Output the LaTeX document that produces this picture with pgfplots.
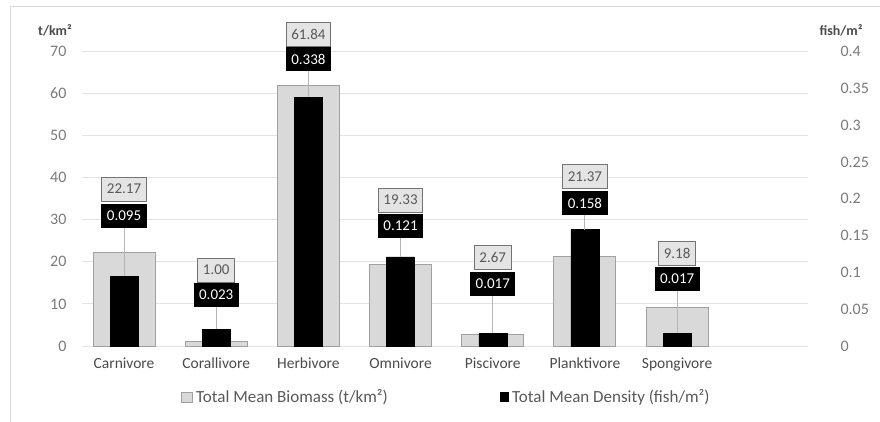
\documentclass[border=0pt]{standalone}
\usepackage{pgfplots}
\pgfplotsset{compat=1.18}
\usepackage{pgfplotstable}
\usepackage{fontspec}
\setmainfont{Carlito}

\definecolor{biofill}{HTML}{D9D9D9}
\definecolor{bioedge}{HTML}{A0A0A0}
\definecolor{boxfill}{HTML}{E4E4E4}
\definecolor{boxedge}{HTML}{737373}
\definecolor{gridc}{HTML}{E3E3E3}
\definecolor{tickc}{HTML}{7A7A7A}
\definecolor{catc}{HTML}{4A4A4A}
\definecolor{legc}{HTML}{595959}
\definecolor{leadc}{HTML}{B5B5B5}
\definecolor{framec}{HTML}{D9D9D9}

% feeding guild, biomass (t/km2), density (fish/m2)
\pgfplotstableread{
idx biomass density
0 22.17 0.095
1 1.00  0.023
2 61.84 0.338
3 19.33 0.121
4 2.67  0.017
5 21.37 0.158
6 9.18  0.017
}\guilds

\pgfplotsset{
  guildaxis/.style={
    scale only axis, width=726pt, height=294.5pt,
    at={(82pt,75pt)}, anchor=south west,
    xmin=-0.456, xmax=7.42, ymin=0,
    axis line style={draw=none}, major tick length=0pt,
    tick style={draw=none},
    /pgf/number format/assume math mode=true,
    tick label style={font=\fontsize{16}{18}\selectfont},
  },
}
\tikzset{
  biobox/.style={draw=boxedge, fill=boxfill, text=legc, line width=0.9pt,
    inner xsep=5pt, minimum height=24pt, font=\fontsize{15}{18}\selectfont},
  denbox/.style={draw=black, fill=black, text=white, line width=0.9pt,
    inner xsep=5pt, minimum height=23pt, font=\fontsize{15}{18}\selectfont},
}

\begin{document}
\begin{tikzpicture}
\path[use as bounding box] (0pt,0pt) rectangle (880pt,421pt);
\draw[framec, line width=1pt] (10pt,-5pt) -- (10pt,414pt) -- (885pt,414pt);

% biomass on the left axis
\begin{axis}[guildaxis, ybar, bar width=62pt, ymax=70,
  ytick={0,10,...,70}, ymajorgrids, grid style={gridc, line width=1pt},
  yticklabel style={text=tickc, xshift=-12pt},
  xtick={0,...,6},
  xticklabels={Carnivore,Corallivore,Herbivore,Omnivore,Piscivore,Planktivore,Spongivore},
  xticklabel style={text=catc, yshift=-8pt, font=\fontsize{15.5}{18}\selectfont},
]
\addplot[fill=biofill, draw=bioedge, line width=0.9pt] table[x=idx, y=biomass] {\guilds};
\end{axis}

% density on the right axis, with the value boxes
\begin{axis}[guildaxis, ybar, bar width=28pt, ymax=0.4, clip=false,
  ytick={0,0.05,...,0.4},
  yticklabels={0,0.05,0.1,0.15,0.2,0.25,0.3,0.35,0.4},
  yticklabel pos=right,
  yticklabel style={text=tickc, anchor=west, xshift=29pt},
  xtick=\empty,
]
\addplot[fill=black, draw=black] table[x=idx, y=density] {\guilds};

\foreach \i/\b/\d/\yb/\yd in {
  0/22.17/0.095/0.2132/0.1772,
  1/1.00/0.023/0.1032/0.0693,
  2/61.84/0.338/0.4231/0.3898,
  3/19.33/0.121/0.1983/0.1630,
  4/2.67/0.017/0.1202/0.0842,
  5/21.37/0.158/0.2302/0.1942,
  6/9.18/0.017/0.1256/0.0917}{
  \edef\temp{\noexpand\draw[leadc, line width=1pt] (axis cs:\i,\yd) -- (axis cs:\i,\d);
    \noexpand\node[denbox] at (axis cs:\i,\yd) {\d};
    \noexpand\node[biobox] at (axis cs:\i,\yb) {\b};}
  \temp
}
\end{axis}

% unit labels
\node[font=\bfseries\fontsize{14}{16}\selectfont, text=catc] at (55pt,391pt) {t/km²};
\node[font=\bfseries\fontsize{14}{16}\selectfont, text=catc] at (841pt,391pt) {fish/m²};

% legend
\draw[bioedge, fill=biofill, line width=0.9pt] (181pt,19pt) rectangle (192pt,29pt);
\node[anchor=west, text=legc, font=\fontsize{17}{20}\selectfont, inner sep=0pt] at (196pt,24pt) {Total Mean Biomass (t/km²)};
\fill[black] (500pt,19pt) rectangle (509pt,29pt);
\node[anchor=west, text=legc, font=\fontsize{17}{20}\selectfont, inner sep=0pt] at (512pt,24pt) {Total Mean Density (fish/m²)};
\end{tikzpicture}
\end{document}
